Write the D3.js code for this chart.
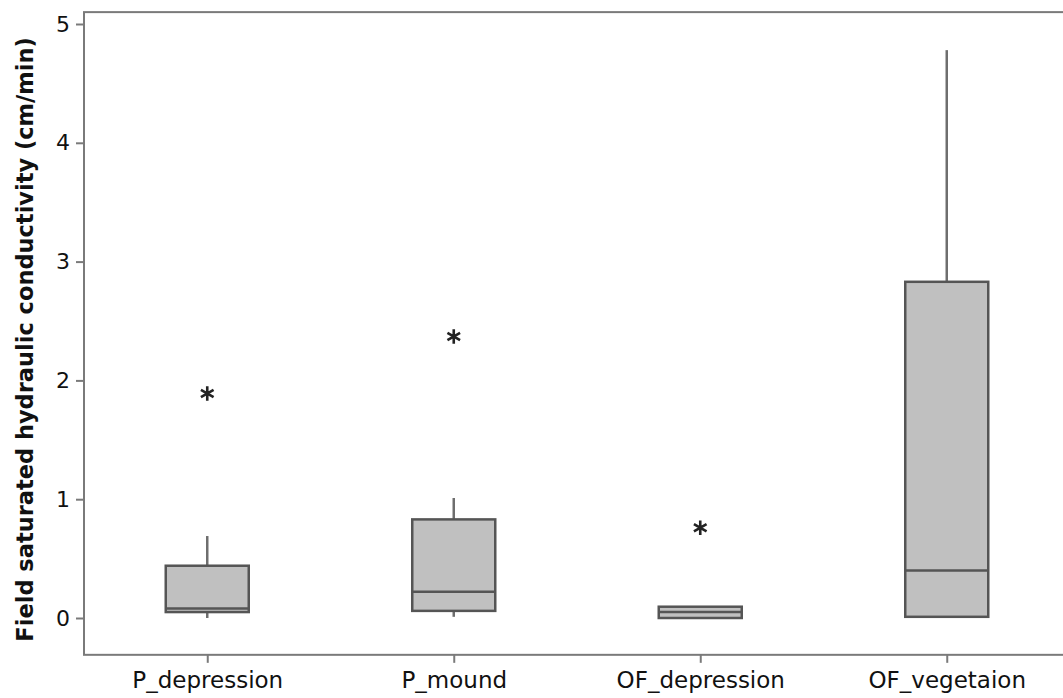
<!DOCTYPE html>
<html>
<head>
<meta charset="utf-8">
<script src="https://cdn.jsdelivr.net/npm/d3@7"></script>
<style>
  body { margin: 0; background: #fff; }
  svg { display: block; font-family: "DejaVu Sans", Verdana, sans-serif; }
</style>
</head>
<body>
<div id="chart"></div>
<script>
// categories and box statistics
const categories = ["P_depression", "P_mound", "OF_depression", "OF_vegetaion"];
const whiskerLow = [0.0, 0.01, 0.0, 0.0];
const q1 = [0.05, 0.06, 0.0, 0.01];
const median = [0.08, 0.22, 0.05, 0.40];
const q3 = [0.44, 0.83, 0.095, 2.83];
const whiskerHigh = [0.69, 1.01, 0.10, 4.78];
const outliers = [1.89, 2.37, 0.76, null];
const yTicks = [0, 1, 2, 3, 4, 5];

const width = 1063, height = 698;
const svg = d3.select("#chart").append("svg")
    .attr("width", width)
    .attr("height", height);

const boxes = categories.map((c, i) => ({
    cat: c, lo: whiskerLow[i], q1: q1[i], med: median[i], q3: q3[i], hi: whiskerHigh[i], out: outliers[i]
}));

// scales
const x = d3.scalePoint().domain(categories).range([84, 1070]).padding(0.5);
const y = d3.scaleLinear().domain([0, 5]).range([618, 24]);
const yBottom = y(-0.31), yTop = y(5.1);
const boxW = 83;

// frame (right edge runs off the picture)
svg.append("rect")
    .attr("x", 84).attr("y", yTop)
    .attr("width", 990).attr("height", yBottom - yTop)
    .attr("fill", "none").attr("stroke", "#7a7a7a").attr("stroke-width", 2);

// y axis
const yAxis = svg.append("g")
    .attr("transform", "translate(84,0)")
    .call(d3.axisLeft(y).tickValues(yTicks).tickSize(8).tickPadding(6).tickFormat(d3.format("d")));
yAxis.select(".domain").remove();
yAxis.selectAll("line").attr("stroke", "#7a7a7a").attr("stroke-width", 2);
yAxis.selectAll("text").attr("fill", "#111").style("font-size", "22px").style("font-family", "DejaVu Sans, Verdana, sans-serif");

// x axis
const xAxis = svg.append("g")
    .attr("transform", `translate(0,${yBottom})`)
    .call(d3.axisBottom(x).tickSize(8).tickPadding(9));
xAxis.select(".domain").remove();
xAxis.selectAll("line").attr("stroke", "#7a7a7a").attr("stroke-width", 2);
xAxis.selectAll("text").attr("fill", "#111").style("font-size", "23px").style("font-family", "DejaVu Sans, Verdana, sans-serif");

// y label
svg.append("text")
    .attr("transform", `translate(33,${(yTop + yBottom) / 2 + 6}) rotate(-90)`)
    .attr("text-anchor", "middle")
    .style("font-size", "22.5px")
    .style("font-weight", "bold")
    .attr("fill", "#111")
    .text("Field saturated hydraulic conductivity (cm/min)");

// boxes
const g = svg.selectAll(".box").data(boxes).enter().append("g").attr("class", "box");

g.append("line")
    .attr("x1", d => x(d.cat)).attr("x2", d => x(d.cat))
    .attr("y1", d => y(d.q3)).attr("y2", d => y(d.hi))
    .attr("stroke", "#6e6e6e").attr("stroke-width", 2.5);
g.append("line")
    .attr("x1", d => x(d.cat)).attr("x2", d => x(d.cat))
    .attr("y1", d => y(d.q1)).attr("y2", d => y(d.lo))
    .attr("stroke", "#6e6e6e").attr("stroke-width", 2.5);

g.append("rect")
    .attr("x", d => x(d.cat) - boxW / 2)
    .attr("y", d => y(d.q3))
    .attr("width", boxW)
    .attr("height", d => y(d.q1) - y(d.q3))
    .attr("fill", "#c0c0c0")
    .attr("stroke", "#555").attr("stroke-width", 2.5);

g.append("line")
    .attr("x1", d => x(d.cat) - boxW / 2).attr("x2", d => x(d.cat) + boxW / 2)
    .attr("y1", d => y(d.med)).attr("y2", d => y(d.med))
    .attr("stroke", "#555").attr("stroke-width", 2.5);

// outliers
const star = d3.symbol().type(d3.symbolAsterisk).size(150);
g.filter(d => d.out != null).append("path")
    .attr("d", star)
    .attr("transform", d => `translate(${x(d.cat)},${y(d.out)})`)
    .attr("fill", "none").attr("stroke", "#222").attr("stroke-width", 2.6);
</script>
</body>
</html>
